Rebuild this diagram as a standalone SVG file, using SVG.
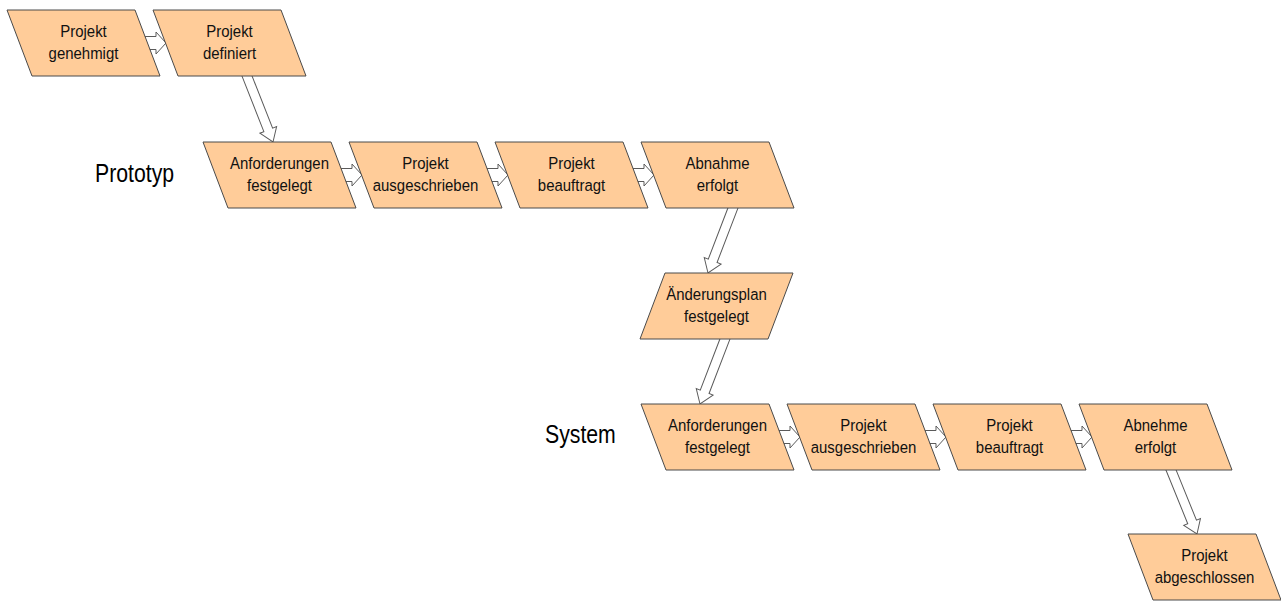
<svg xmlns="http://www.w3.org/2000/svg" xmlns:xlink="http://www.w3.org/1999/xlink" width="1281" height="601" viewBox="0 0 1281 601">
<style>
.n{fill:#FFCC99;stroke:#4a4a4a;stroke-width:1}
.a{fill:#fff;stroke:#5a5a5a;stroke-width:1}
.t{font-family:"Liberation Sans",Arial,sans-serif;font-size:17px;fill:#111;text-anchor:middle}
.l{font-family:"Liberation Sans",Arial,sans-serif;font-size:25px;fill:#000}
</style>
<defs>
<path id="ha" d="M-26,-6.5H-10V-11L0,0L-10,11V6.5H-26Z"/>
<path id="da" d="M-74,-4.7H-13V-9L0,0L-13,9V4.7H-74Z"/>
</defs>
<rect width="1281" height="601" fill="#fff"/>
<g id="connectors" class="a">
<use xlink:href="#ha" href="#ha" x="166" y="43"/>
<use xlink:href="#ha" href="#ha" x="362" y="175"/>
<use xlink:href="#ha" href="#ha" x="508" y="175"/>
<use xlink:href="#ha" href="#ha" x="654" y="175"/>
<use xlink:href="#ha" href="#ha" x="800" y="437"/>
<use xlink:href="#ha" href="#ha" x="946" y="437"/>
<use xlink:href="#ha" href="#ha" x="1092" y="437"/>
<use xlink:href="#da" href="#da" transform="translate(273,142) rotate(68.5)"/>
<use xlink:href="#da" href="#da" transform="translate(708,273) rotate(111)"/>
<use xlink:href="#da" href="#da" transform="translate(700,404) rotate(111)"/>
<use xlink:href="#da" href="#da" transform="translate(1197,534) rotate(67.9)"/>
</g>
<g id="n1"><polygon class="n" points="7,10 135,10 160,76 32,76"/><text class="t" transform="translate(83.5,43) scale(0.88,1)"><tspan x="0" y="-6">Projekt</tspan><tspan x="0" y="16">genehmigt</tspan></text></g>
<g id="n2"><polygon class="n" points="153,10 281,10 306,76 178,76"/><text class="t" transform="translate(229.5,43) scale(0.88,1)"><tspan x="0" y="-6">Projekt</tspan><tspan x="0" y="16">definiert</tspan></text></g>
<g id="n3"><polygon class="n" points="203,142 331,142 356,208 228,208"/><text class="t" transform="translate(279.5,175) scale(0.88,1)"><tspan x="0" y="-6">Anforderungen</tspan><tspan x="0" y="16">festgelegt</tspan></text></g>
<g id="n4"><polygon class="n" points="349,142 477,142 502,208 374,208"/><text class="t" transform="translate(425.5,175) scale(0.88,1)"><tspan x="0" y="-6">Projekt</tspan><tspan x="0" y="16">ausgeschrieben</tspan></text></g>
<g id="n5"><polygon class="n" points="495,142 623,142 648,208 520,208"/><text class="t" transform="translate(571.5,175) scale(0.88,1)"><tspan x="0" y="-6">Projekt</tspan><tspan x="0" y="16">beauftragt</tspan></text></g>
<g id="n6"><polygon class="n" points="641,142 769,142 794,208 666,208"/><text class="t" transform="translate(717.5,175) scale(0.88,1)"><tspan x="0" y="-6">Abnahme</tspan><tspan x="0" y="16">erfolgt</tspan></text></g>
<g id="n7"><polygon class="n" points="665,273 793,273 768,339 640,339"/><text class="t" transform="translate(716.5,306) scale(0.88,1)"><tspan x="0" y="-6">Änderungsplan</tspan><tspan x="0" y="16">festgelegt</tspan></text></g>
<g id="n8"><polygon class="n" points="641,404 769,404 794,470 666,470"/><text class="t" transform="translate(717.5,437) scale(0.88,1)"><tspan x="0" y="-6">Anforderungen</tspan><tspan x="0" y="16">festgelegt</tspan></text></g>
<g id="n9"><polygon class="n" points="787,404 915,404 940,470 812,470"/><text class="t" transform="translate(863.5,437) scale(0.88,1)"><tspan x="0" y="-6">Projekt</tspan><tspan x="0" y="16">ausgeschrieben</tspan></text></g>
<g id="n10"><polygon class="n" points="933,404 1061,404 1086,470 958,470"/><text class="t" transform="translate(1009.5,437) scale(0.88,1)"><tspan x="0" y="-6">Projekt</tspan><tspan x="0" y="16">beauftragt</tspan></text></g>
<g id="n11"><polygon class="n" points="1079,404 1207,404 1232,470 1104,470"/><text class="t" transform="translate(1155.5,437) scale(0.88,1)"><tspan x="0" y="-6">Abnehme</tspan><tspan x="0" y="16">erfolgt</tspan></text></g>
<g id="n12"><polygon class="n" points="1128,534 1256,534 1281,600 1153,600"/><text class="t" transform="translate(1204.5,567) scale(0.88,1)"><tspan x="0" y="-6">Projekt</tspan><tspan x="0" y="16">abgeschlossen</tspan></text></g>
<g id="labels">
<text class="l" transform="translate(95,182) scale(0.85,1)">Prototyp</text>
<text class="l" transform="translate(545,443) scale(0.85,1)">System</text>
</g>
</svg>
